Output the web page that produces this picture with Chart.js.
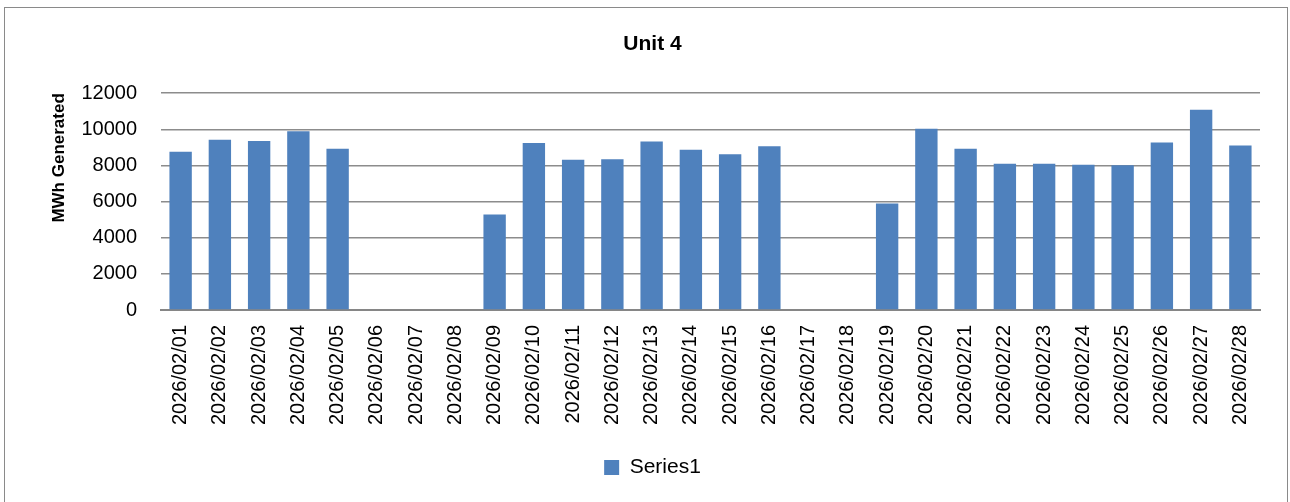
<!DOCTYPE html>
<html>
<head>
<meta charset="utf-8">
<script src="https://cdn.jsdelivr.net/npm/chart.js@4/dist/chart.umd.min.js"></script>
<style>
  body { margin: 0; background: #fff; }
  #box {
    position: absolute; left: 4px; top: 7px;
    width: 1282px; height: 498px;
    border: 1px solid #8a8a8a;
  }
</style>
</head>
<body>
<div id="box"><canvas id="myChart" width="1282" height="498"></canvas></div>
<script>
var labels = ['2026/02/01', '2026/02/02', '2026/02/03', '2026/02/04', '2026/02/05', '2026/02/06', '2026/02/07',
  '2026/02/08', '2026/02/09', '2026/02/10', '2026/02/11', '2026/02/12', '2026/02/13', '2026/02/14',
  '2026/02/15', '2026/02/16', '2026/02/17', '2026/02/18', '2026/02/19', '2026/02/20', '2026/02/21',
  '2026/02/22', '2026/02/23', '2026/02/24', '2026/02/25', '2026/02/26', '2026/02/27', '2026/02/28'];
var series1 = [8760, 9420, 9350, 9900, 8930, 0, 0,
  0, 5280, 9250, 8310, 8340, 9330, 8870,
  8620, 9070, 0, 0, 5890, 10030, 8920,
  8090, 8090, 8040, 8010, 9270, 11080, 9100];
var yTicks = [0, 2000, 4000, 6000, 8000, 10000, 12000];

var font = 'Liberation Sans';
Chart.defaults.font.family = font;
Chart.defaults.color = '#000';

var ctx = document.getElementById('myChart').getContext('2d');
var myChart = new Chart(ctx, {
  type: 'bar',
  data: {
    labels: labels,
    datasets: [{
      label: 'Series1',
      data: series1,
      backgroundColor: '#4F81BD',
      borderColor: '#4F81BD',
      borderWidth: 0,
      categoryPercentage: 1,
      barPercentage: 0.57
    }]
  },
  options: {
    responsive: false,
    animation: false,
    layout: { padding: { left: 40, right: 27, top: 0, bottom: 18 } },
    plugins: {
      title: {
        display: true,
        text: 'Unit 4',
        font: { size: 21, weight: 'bold' },
        color: '#000',
        padding: { top: 24, bottom: 36 }
      },
      legend: {
        position: 'bottom',
        labels: {
          boxWidth: 15, boxHeight: 15,
          font: { size: 21 },
          color: '#000',
          padding: 10
        }
      },
      tooltip: { enabled: false }
    },
    scales: {
      x: {
        grid: { display: false, drawTicks: false },
        border: { display: true, color: '#868686', width: 2 },
        ticks: {
          minRotation: 90, maxRotation: 90, autoSkip: false,
          padding: 15,
          font: { size: 20 }
        },
        afterFit: function(scale) { scale.height = 137; }
      },
      y: {
        min: 0, max: 12000,
        afterBuildTicks: function(scale) {
          scale.ticks = yTicks.map(function(v) { return { value: v }; });
        },
        grid: { color: '#8c8c8c', lineWidth: 1.5, drawTicks: false },
        border: { display: false },
        ticks: {
          padding: 24,
          font: { size: 20 },
          callback: function(v) { return String(v); }
        },
        title: {
          display: true,
          text: 'MWh Generated',
          align: 'end',
          font: { size: 17, weight: 'bold' },
          color: '#000'
        },
        afterFit: function(scale) { scale.width = 116; }
      }
    }
  }
});
</script>
</body>
</html>
